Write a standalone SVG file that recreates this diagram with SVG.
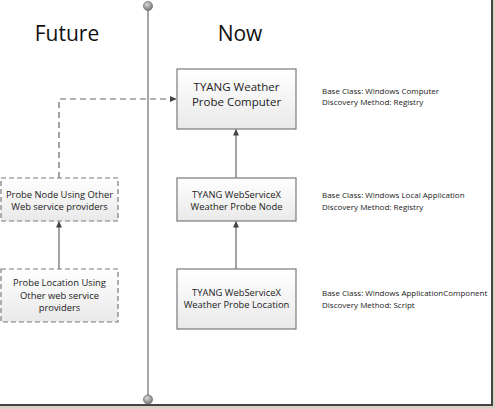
<svg xmlns="http://www.w3.org/2000/svg" width="495" height="409" viewBox="0 0 495 409">
<style>
.box{fill:url(#g);stroke:#7a7a7a;stroke-width:1.2}
.dbox{fill:url(#g);stroke:#7a7a7a;stroke-width:1.2;stroke-dasharray:5,3}
.t{font-family:"Open Sans","Liberation Sans",sans-serif;fill:#222;text-anchor:middle}
.l{font-family:"Open Sans","Liberation Sans",sans-serif;fill:#222;font-size:8px}
.h{font-family:"Open Sans","Liberation Sans",sans-serif;fill:#111;font-size:21px;text-anchor:middle}
.c{fill:none;stroke:#666;stroke-width:1.2}
</style>
<defs>
<linearGradient id="g" x1="0" y1="0" x2="0" y2="1">
<stop offset="0" stop-color="#ffffff"/><stop offset="1" stop-color="#e9e9e9"/>
</linearGradient>
<radialGradient id="dot" cx="0.4" cy="0.35" r="0.7">
<stop offset="0" stop-color="#d8d8d8"/><stop offset="1" stop-color="#6e6e6e"/>
</radialGradient>
<marker id="a" markerWidth="7" markerHeight="7" refX="6" refY="3.5" orient="auto" markerUnits="userSpaceOnUse">
<path d="M0,0.5 L6.5,3.5 L0,6.5 Z" fill="#444"/>
</marker>
</defs>
<rect width="495" height="409" fill="#fff"/>
<rect x="493" y="0" width="2" height="409" fill="#d9d2c4"/>
<rect x="0" y="406" width="495" height="3" fill="#d9d2c4"/>
<line x1="492" y1="0" x2="492" y2="406" stroke="#444" stroke-width="2"/>
<line x1="0" y1="405" x2="493" y2="405" stroke="#444" stroke-width="2"/>

<g id="timeline">
<line x1="148" y1="6" x2="148" y2="399" stroke="#8a8a8a" stroke-width="1.5"/>
<circle cx="148" cy="6" r="4.6" fill="url(#dot)" stroke="#666" stroke-width="0.6"/>
<circle cx="148" cy="399.5" r="4.6" fill="url(#dot)" stroke="#666" stroke-width="0.6"/>
</g>
<g id="headers">
<text class="h" x="67" y="41">Future</text>
<text class="h" x="240" y="41">Now</text>
</g>

<g id="connectors">
<path class="c" d="M59,178 V99 H176" stroke-dasharray="6,4" marker-end="url(#a)"/>
<line class="c" x1="236" y1="178" x2="236" y2="129.5" marker-end="url(#a)"/>
<line class="c" x1="236" y1="269" x2="236" y2="221.5" marker-end="url(#a)"/>
<line class="c" x1="59" y1="269" x2="59" y2="221.5" marker-end="url(#a)"/>
</g>

<g id="computer">
<rect class="box" x="177" y="69" width="119" height="60"/>
<text class="t" x="236.5" y="91" font-size="11.5">TYANG Weather</text>
<text class="t" x="236.5" y="106" font-size="11.5">Probe Computer</text>
</g>
<g id="computer-info">
<text class="l" x="322" y="94">Base Class: Windows Computer</text>
<text class="l" x="322" y="105">Discovery Method: Registry</text>
</g>

<g id="node">
<rect class="box" x="177" y="178" width="119" height="43"/>
<text class="t" x="236.5" y="198" font-size="9.4">TYANG WebServiceX</text>
<text class="t" x="236.5" y="210" font-size="9.4">Weather Probe Node</text>
</g>
<g id="node-info">
<text class="l" x="322" y="198">Base Class: Windows Local Application</text>
<text class="l" x="322" y="210">Discovery Method: Registry</text>
</g>

<g id="location">
<rect class="box" x="177" y="269" width="119" height="60"/>
<text class="t" x="236.5" y="296" font-size="9.4">TYANG WebServiceX</text>
<text class="t" x="236.5" y="308" font-size="9.4">Weather Probe Location</text>
</g>
<g id="location-info">
<text class="l" x="322" y="296">Base Class: Windows ApplicationComponent</text>
<text class="l" x="322" y="308">Discovery Method: Script</text>
</g>

<g id="future-node">
<rect class="dbox" x="1" y="178" width="117" height="43"/>
<text class="t" x="59.5" y="198" font-size="9.4">Probe Node Using Other</text>
<text class="t" x="59.5" y="210" font-size="9.4">Web service providers</text>
</g>
<g id="future-location">
<rect class="dbox" x="1" y="269" width="117" height="53"/>
<text class="t" x="59.5" y="286" font-size="9.4">Probe Location Using</text>
<text class="t" x="59.5" y="298.5" font-size="9.4">Other web service</text>
<text class="t" x="59.5" y="311" font-size="9.4">providers</text>
</g>
</svg>
